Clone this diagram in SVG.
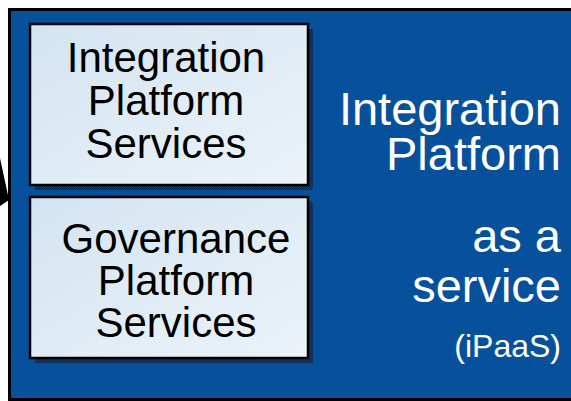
<svg xmlns="http://www.w3.org/2000/svg" width="571" height="401" viewBox="0 0 571 401">
<defs>
<linearGradient id="boxfill" x1="0" y1="0" x2="1" y2="1">
<stop offset="0" stop-color="#d3e4f1"/>
<stop offset="1" stop-color="#ecf3f9"/>
</linearGradient>
<pattern id="dots" width="2" height="2" patternUnits="userSpaceOnUse">
<rect width="2" height="2" fill="#0f3f7c"/>
<rect width="1" height="1" fill="#06264f"/>
<rect x="1" y="1" width="1" height="1" fill="#06264f"/>
</pattern>
</defs>
<style>
.box{fill:url(#boxfill);stroke:#000;stroke-width:2.5}
.shadow{fill:url(#dots)}
.dark{font-family:"Liberation Sans",Arial,sans-serif;font-size:42px;fill:#000;text-anchor:middle}
.light{font-family:"Liberation Sans",Arial,sans-serif;font-size:47px;fill:#fff;text-anchor:end}
</style>
<rect x="0" y="0" width="571" height="401" fill="#fff"/>
<rect id="platform" x="9.5" y="9.5" width="570" height="390" fill="#07519c" stroke="#000" stroke-width="3"/>
<g id="connectors">
<polygon points="0,158 9,200 0,206" fill="#000"/>
</g>
<g id="integration-services">
<rect class="shadow" x="35" y="29" width="278" height="161"/>
<rect class="box" x="30" y="24" width="278" height="161"/>
<text class="dark" x="166" y="72">Integration</text>
<text class="dark" x="166" y="115">Platform</text>
<text class="dark" x="166" y="158">Services</text>
</g>
<g id="governance-services">
<rect class="shadow" x="35" y="202" width="278" height="161"/>
<rect class="box" x="30" y="197" width="278" height="161"/>
<text class="dark" x="176" y="253">Governance</text>
<text class="dark" x="176" y="295">Platform</text>
<text class="dark" x="176" y="337">Services</text>
</g>
<g id="ipaas-label">
<text class="light" x="561" y="125">Integration</text>
<text class="light" x="561" y="170">Platform</text>
<text class="light" x="561" y="252">as a</text>
<text class="light" x="561" y="302">service</text>
<text class="light" x="561" y="357" style="font-size:32px">(iPaaS)</text>
</g>
</svg>
